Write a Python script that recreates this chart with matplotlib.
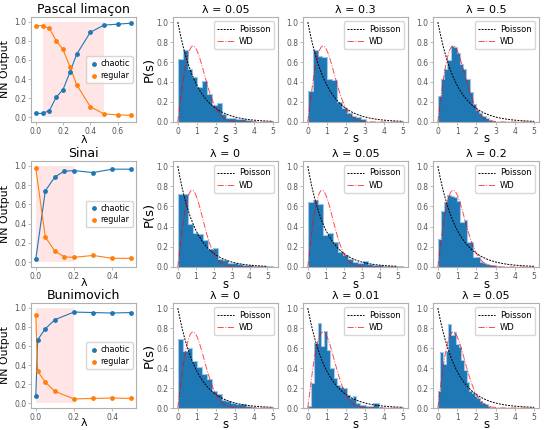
import numpy as np
import matplotlib
matplotlib.use("Agg")
import matplotlib.pyplot as plt

plt.rcParams['font.family'] = ['DejaVu Sans']

# ---------------- data: NN output vs lambda ----------------
systems = ["Pascal limaçon", "Sinai", "Bunimovich"]

lam_pascal = [0.0, 0.05, 0.1, 0.15, 0.2, 0.25, 0.3, 0.4, 0.5, 0.6, 0.7]
chaotic_pascal = [0.04, 0.04, 0.07, 0.21, 0.29, 0.47, 0.66, 0.89, 0.965, 0.975, 0.985]
regular_pascal = [0.96, 0.96, 0.93, 0.80, 0.71, 0.53, 0.34, 0.11, 0.035, 0.025, 0.02]
shade_pascal = [0.05, 0.5]

lam_sinai = [0.0, 0.05, 0.1, 0.15, 0.2, 0.3, 0.4, 0.5]
chaotic_sinai = [0.03, 0.74, 0.885, 0.945, 0.95, 0.93, 0.965, 0.965]
regular_sinai = [0.975, 0.26, 0.115, 0.055, 0.05, 0.07, 0.04, 0.04]
shade_sinai = [0.0, 0.2]

lam_buni = [0.0, 0.01, 0.05, 0.1, 0.2, 0.3, 0.4, 0.5]
chaotic_buni = [0.075, 0.665, 0.78, 0.875, 0.955, 0.95, 0.945, 0.95]
regular_buni = [0.925, 0.335, 0.22, 0.125, 0.045, 0.05, 0.055, 0.05]
shade_buni = [0.0, 0.2]

# ---------------- data: spacing histograms (density heights, bin width) ----------------
hist_titles = [["λ = 0.05", "λ = 0.3", "λ = 0.5"],
               ["λ = 0", "λ = 0.05", "λ = 0.2"],
               ["λ = 0", "λ = 0.01", "λ = 0.05"]]

h_pascal_005 = [0.63, 0.72, 0.53, 0.45, 0.35, 0.41, 0.28, 0.17, 0.19, 0.08, 0.04, 0.04,
                0.03, 0.03, 0.02, 0.01]
w_pascal_005 = 0.255
h_pascal_03 = [0.31, 0.72, 0.66, 0.65, 0.43, 0.42, 0.20, 0.14, 0.09, 0.06, 0.05, 0.03]
w_pascal_03 = 0.255
h_pascal_05 = [0.26, 0.43, 0.53, 0.62, 0.76, 0.75, 0.69, 0.58, 0.53, 0.43, 0.30, 0.18,
               0.12, 0.09, 0.06, 0.04, 0.02, 0.01]
w_pascal_05 = 0.165

h_sinai_0 = [0.72, 0.72, 0.43, 0.34, 0.33, 0.27, 0.18, 0.19, 0.08, 0.07, 0.04, 0.04,
             0.03, 0.02, 0.02, 0.01, 0.01, 0.01, 0.005]
w_sinai_0 = 0.28
h_sinai_005 = [0.64, 0.66, 0.62, 0.32, 0.34, 0.25, 0.15, 0.12, 0.08, 0.05, 0.04, 0.06,
               0.03, 0.02, 0.02, 0.01, 0.01, 0.01, 0.005]
w_sinai_005 = 0.28
h_sinai_02 = [0.28, 0.55, 0.64, 0.71, 0.70, 0.69, 0.65, 0.45, 0.47, 0.25, 0.25, 0.10,
              0.10, 0.05, 0.04, 0.03, 0.02, 0.02, 0.01]
w_sinai_02 = 0.167

h_buni_0 = [0.69, 0.57, 0.60, 0.47, 0.41, 0.34, 0.29, 0.17, 0.14, 0.08, 0.07, 0.05,
            0.04, 0.04, 0.02, 0.01]
w_buni_0 = 0.255
h_buni_001 = [0.02, 0.25, 0.65, 0.85, 0.62, 0.77, 0.58, 0.40, 0.30, 0.23, 0.21, 0.20,
              0.13, 0.10, 0.12, 0.05, 0.03, 0.03, 0.02, 0.02, 0.05, 0.05, 0.01]
w_buni_001 = 0.17
h_buni_005 = [0.17, 0.56, 0.44, 0.57, 0.84, 0.73, 0.76, 0.64, 0.61, 0.48, 0.38, 0.26,
              0.17, 0.15, 0.12, 0.10, 0.07, 0.05, 0.04, 0.02]
w_buni_005 = 0.136

left_data = [
    (lam_pascal, chaotic_pascal, regular_pascal, shade_pascal),
    (lam_sinai, chaotic_sinai, regular_sinai, shade_sinai),
    (lam_buni, chaotic_buni, regular_buni, shade_buni),
]
hist_data = [
    [(h_pascal_005, w_pascal_005), (h_pascal_03, w_pascal_03), (h_pascal_05, w_pascal_05)],
    [(h_sinai_0, w_sinai_0), (h_sinai_005, w_sinai_005), (h_sinai_02, w_sinai_02)],
    [(h_buni_0, w_buni_0), (h_buni_001, w_buni_001), (h_buni_005, w_buni_005)],
]

# ---------------- layout ----------------
W, H = 545, 430
fig = plt.figure(figsize=(W / 100, H / 100), dpi=100)
cols = [(31, 136), (173, 278), (303, 408), (433, 539)]
rows = [(17, 122), (161, 267), (303, 408)]
lam_label_y = [-0.125, -0.102, -0.1]

spine_c = "#b0b0b0"
tick_c = "#555555"


def make_ax(r, c):
    x0, x1 = cols[c]
    y0, y1 = rows[r]
    ax = fig.add_axes([x0 / W, 1 - y1 / H, (x1 - x0) / W, (y1 - y0) / H])
    for sp in ax.spines.values():
        sp.set_color(spine_c)
        sp.set_linewidth(0.8)
    ax.tick_params(labelsize=5.5, colors=spine_c, labelcolor=tick_c,
                   length=2.5, width=0.6, pad=1.0)
    return ax


s = np.linspace(0, 5, 300)
poisson = np.exp(-s)
wd = np.pi / 2 * s * np.exp(-np.pi * s ** 2 / 4)

for r in range(3):
    lam, ch, rg, sh = left_data[r]
    ax = make_ax(r, 0)
    ax.fill_between(sh, 0, 1, color="red", alpha=0.1, lw=0)
    ax.plot(lam, ch, color="C0", lw=0.8)
    ax.plot(lam, rg, color="C1", lw=0.8)
    ax.scatter(lam, ch, s=6, color="C0", label="chaotic", zorder=3)
    ax.scatter(lam, rg, s=6, color="C1", label="regular", zorder=3)
    ax.set_title(systems[r], fontsize=9, pad=3)
    ax.set_xlabel("λ", fontsize=8)
    ax.xaxis.set_label_coords(0.5, lam_label_y[r])
    ax.set_ylabel("NN Output", fontsize=7.8)
    ax.yaxis.set_label_coords(-0.2, 0.5)
    ax.set_yticks([0.0, 0.2, 0.4, 0.6, 0.8, 1.0])
    ax.legend(loc="center right", fontsize=5.8, handletextpad=0.1,
              borderpad=0.35, labelspacing=0.35, handlelength=1.4,
              borderaxespad=0.4)

    for c in range(3):
        heights, width = hist_data[r][c]
        edges = np.arange(len(heights) + 1) * width
        ax = make_ax(r, c + 1)
        ax.stairs(heights, edges, fill=True, color="C0", lw=0)
        ax.stairs(heights, edges, fill=False, color="#9fc5e8", lw=0.8)
        ax.plot(s, poisson, color="k", ls=(0, (2, 1.2)), lw=0.7, label="Poisson")
        ax.plot(s, wd, color="red", ls="-.", lw=0.7, alpha=0.7, label="WD")
        ax.set_title(hist_titles[r][c], fontsize=8, pad=3)
        ax.set_xlabel("s", fontsize=8.5)
        ax.xaxis.set_label_coords(0.5, -0.1)
        if c == 0:
            ax.set_ylabel("P(s)", fontsize=9.5)
            ax.yaxis.set_label_coords(-0.16, 0.5)
        ax.set_xticks([0, 1, 2, 3, 4, 5])
        ax.set_yticks([0.0, 0.2, 0.4, 0.6, 0.8, 1.0])
        ax.legend(loc="upper right", fontsize=6, handlelength=2.0,
                  handletextpad=0.6, borderpad=0.4, labelspacing=0.4)

fig.savefig("out.png", dpi=100)
